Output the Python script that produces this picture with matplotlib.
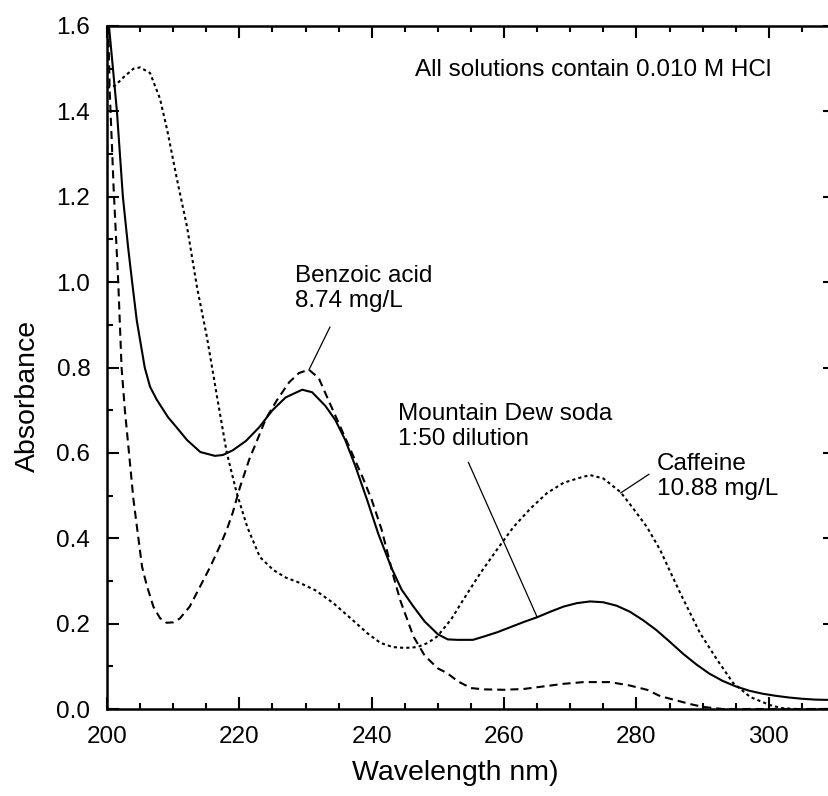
import matplotlib
matplotlib.use("Agg")
import matplotlib.pyplot as plt
from matplotlib.ticker import MultipleLocator, FormatStrFormatter

plt.rcParams['font.family'] = ['Liberation Sans', 'DejaVu Sans']

# Mountain Dew soda, 1:50 dilution (solid)
dew_nm = [200.3, 201.5, 202.4, 203.2, 203.8, 204.5, 205.7, 206.5, 207.5, 209.2,
          210.5, 212.1, 214.1, 216.3, 217.5, 219.0, 221.0, 223.0, 225.0, 227.0,
          229.5, 231.0, 233.0, 234.5, 236.0, 237.5, 239.3, 241.0, 243.0, 244.5,
          246.3, 248.0, 250.0, 251.5, 253.0, 255.3, 257.0, 259.0, 261.0, 263.0,
          265.0, 267.0, 269.0, 271.0, 273.0, 275.0, 277.0, 279.0, 281.0, 283.0,
          285.0, 287.0, 289.0, 291.0, 293.0, 295.0, 297.0, 299.0, 301.0, 303.0,
          305.0, 307.0, 310.0]
dew_abs = [1.60, 1.40, 1.20, 1.08, 1.00, 0.91, 0.80, 0.755, 0.725, 0.684,
           0.66, 0.63, 0.602, 0.593, 0.595, 0.606, 0.628, 0.66, 0.70, 0.73,
           0.748, 0.742, 0.71, 0.677, 0.63, 0.57, 0.49, 0.41, 0.33, 0.28,
           0.24, 0.205, 0.175, 0.163, 0.162, 0.162, 0.170, 0.180, 0.192, 0.204,
           0.215, 0.228, 0.240, 0.248, 0.252, 0.250, 0.242, 0.228, 0.208, 0.185,
           0.158, 0.13, 0.105, 0.083, 0.066, 0.053, 0.043, 0.036, 0.031, 0.027,
           0.024, 0.022, 0.021]

# Benzoic acid 8.74 mg/L (dashed)
benz_nm = [200.2, 200.4, 200.8, 201.0, 201.7, 202.2, 202.7, 203.2, 204.0, 205.3,
           206.0, 207.0, 208.0, 209.0, 210.0, 211.0, 212.5, 214.0, 215.6, 217.0,
           218.1, 219.0, 220.1, 221.5, 222.7, 224.0, 225.7, 227.5, 229.0, 230.5,
           232.0, 233.7, 235.0, 237.0, 238.7, 240.0, 241.5, 243.3, 244.3, 246.3,
           248.0, 250.0, 251.4, 253.0, 255.0, 257.0, 260.0, 263.0, 266.0, 269.0,
           272.0, 276.0, 279.0, 281.6, 283.6, 285.6, 288.0, 290.0, 293.0, 300.0,
           310.0]
benz_abs = [1.60, 1.45, 1.30, 1.22, 1.00, 0.80, 0.70, 0.62, 0.49, 0.333,
            0.29, 0.24, 0.213, 0.202, 0.203, 0.212, 0.24, 0.285, 0.333, 0.38,
            0.42, 0.46, 0.52, 0.585, 0.63, 0.68, 0.724, 0.765, 0.787, 0.795,
            0.775, 0.715, 0.67, 0.60, 0.54, 0.49, 0.42, 0.31, 0.255, 0.17,
            0.125, 0.095, 0.084, 0.065, 0.049, 0.046, 0.045, 0.047, 0.053, 0.059,
            0.063, 0.063, 0.055, 0.045, 0.03, 0.022, 0.012, 0.005, 0.0, 0.0,
            0.0]

# Caffeine 10.88 mg/L (dotted)
caf_nm = [200.0, 201.2, 202.5, 204.0, 205.0, 206.5, 208.0, 209.1, 210.6, 212.1,
          213.6, 215.1, 216.8, 218.1, 219.6, 221.2, 223.1, 225.1, 227.0, 229.2,
          231.5, 234.2, 237.0, 239.3, 241.3, 243.2, 245.0, 246.9, 248.5, 249.9,
          252.0, 254.0, 256.4, 259.0, 261.4, 264.0, 266.5, 269.0, 271.5, 273.0,
          275.0, 277.6, 279.5, 281.6, 283.6, 285.0, 286.6, 289.6, 292.2, 294.6,
          297.2, 300.2, 302.0, 304.0, 310.0]
caf_abs = [1.455, 1.46, 1.48, 1.50, 1.503, 1.49, 1.43, 1.356, 1.239, 1.129,
           0.988, 0.871, 0.716, 0.60, 0.506, 0.426, 0.356, 0.326, 0.308, 0.295,
           0.278, 0.248, 0.21, 0.178, 0.155, 0.145, 0.143, 0.145, 0.155, 0.17,
           0.21, 0.26, 0.318, 0.375, 0.426, 0.47, 0.506, 0.53, 0.542, 0.548,
           0.54, 0.508, 0.47, 0.426, 0.372, 0.325, 0.272, 0.178, 0.115, 0.061,
           0.028, 0.009, 0.002, 0.0, 0.0]

fig = plt.figure(figsize=(8.29, 7.96), dpi=100)
ax = fig.add_axes([107 / 829, 1 - 709 / 796, 728 / 829, 683 / 796])

ax.plot(dew_nm, dew_abs, color='black', lw=1.5, solid_joinstyle='round')
ax.plot(benz_nm, benz_abs, color='black', lw=1.5, dashes=(3.9, 2.4))
ax.plot(caf_nm, caf_abs, color='black', lw=1.5, dashes=(1.5, 1.5))

ax.set_xlim(200, 310)
ax.set_ylim(0, 1.6)
ax.xaxis.set_major_locator(MultipleLocator(20))
ax.xaxis.set_minor_locator(MultipleLocator(5))
ax.yaxis.set_major_locator(MultipleLocator(0.2))
ax.yaxis.set_minor_locator(MultipleLocator(0.1))
ax.yaxis.set_major_formatter(FormatStrFormatter('%.1f'))

ax.tick_params(which='both', direction='in', top=True, right=True,
               labelsize=17.5, width=1.5, colors='black')
ax.tick_params(which='major', length=8.6, pad=12)
ax.tick_params(which='minor', length=4.3)
for sp in ax.spines.values():
    sp.set_linewidth(1.8)

ax.set_xlabel('Wavelength nm)', fontsize=20.5, va='top')
ax.set_ylabel('Absorbance', fontsize=20.5)
ax.xaxis.set_label_coords(0.478, -0.075)
ax.yaxis.set_label_coords(-0.091, 0.458)

fs = 17.5
ax.text(246.6, 1.522, 'All solutions contain 0.010 M HCl', fontsize=fs, va='top')

ax.text(228.4, 1.04, 'Benzoic acid\n8.74 mg/L', fontsize=fs, va='top', linespacing=1.2)
ax.annotate('', xy=(230.5, 0.794), xytext=(233.7, 0.895),
            arrowprops=dict(arrowstyle='-', lw=0.9, color='black', shrinkA=0, shrinkB=0))

ax.text(244.0, 0.717, 'Mountain Dew soda\n1:50 dilution', fontsize=fs, va='top', linespacing=1.2)
ax.annotate('', xy=(265.0, 0.215), xytext=(254.6, 0.578),
            arrowprops=dict(arrowstyle='-', lw=0.9, color='black', shrinkA=0, shrinkB=0))

ax.text(283.1, 0.60, 'Caffeine\n10.88 mg/L', fontsize=fs, va='top', linespacing=1.2)
ax.annotate('', xy=(277.6, 0.506), xytext=(281.9, 0.550),
            arrowprops=dict(arrowstyle='-', lw=0.9, color='black', shrinkA=0, shrinkB=0))

fig.savefig('out.png', dpi=100)
